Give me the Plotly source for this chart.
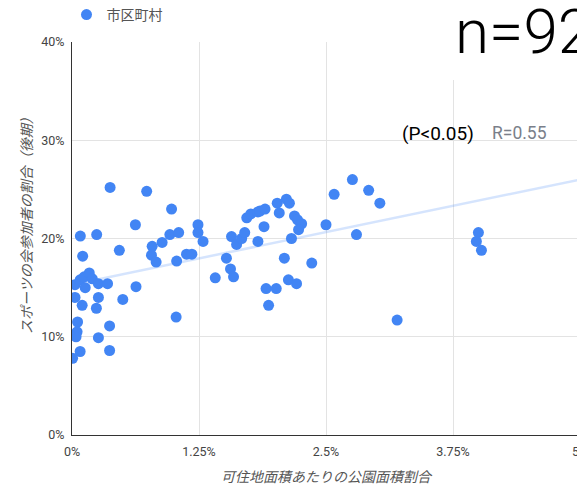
import plotly.graph_objects as go

# 可住地面積あたりの公園面積割合 (%)
park_ratio = [
    0.375, 0.735, 0.98, 0.624, 0.082, 0.243, 0.466, 0.105, 0.789, 0.887,
    0.963, 1.05, 0.782, 0.828, 1.03, 1.127, 1.18, 1.24, 1.24, 1.29,
    1.52, 1.56, 1.59, 1.41, 1.57, 1.62, 1.67, 1.70, 1.72, 1.76,
    1.83, 1.83, 0.03, 0.08, 0.12, 0.17, 0.20, 0.13, 0.26, 0.35,
    0.03, 0.10, 0.26, 0.24, 0.50, 0.63, 1.025, 0.055, 0.05, 0.04,
    0.37, 0.26, 0.37, 0.08, 0.006, 1.85, 1.90, 2.02, 2.11, 2.14,
    2.04, 2.19, 2.22, 2.26, 2.23, 2.16, 1.89, 2.09, 2.36, 2.13,
    2.21, 1.91, 2.01, 1.935, 2.50, 2.58, 2.76, 2.92, 3.03, 2.80,
    3.20, 4.00, 3.98, 4.03,
]
# スポーツの会参加者の割合（後期） (%)
sports_ratio = [
    25.2, 24.8, 23.0, 21.4, 20.25, 20.4, 18.8, 18.2, 19.2, 19.6,
    20.4, 20.6, 18.3, 17.6, 17.7, 18.4, 18.4, 21.4, 20.6, 19.7,
    18.0, 16.9, 16.1, 16.0, 20.2, 19.4, 20.0, 20.6, 22.1, 22.5,
    22.7, 19.7, 15.3, 15.8, 16.1, 16.5, 15.9, 15.0, 15.4, 15.4,
    14.0, 13.2, 14.0, 12.9, 13.8, 15.1, 12.0, 11.5, 10.5, 10.0,
    11.1, 9.9, 8.6, 8.5, 7.8, 22.8, 23.0, 23.6, 24.0, 23.6,
    22.6, 22.3, 21.9, 21.5, 20.9, 20.0, 21.2, 18.0, 17.5, 15.8,
    15.4, 14.9, 14.9, 13.2, 21.4, 24.5, 26.0, 24.9, 23.6, 20.4,
    11.7, 20.6, 19.7, 18.8,
]
trend_x = [0, 5]
trend_y = [15.3, 26.0]

x_ticks = [0, 1.25, 2.5, 3.75, 5]
x_tick_labels = ["0%", "1.25%", "2.5%", "3.75%", "5%"]
y_ticks = [0, 10, 20, 30, 40]
y_tick_labels = ["0%", "10%", "20%", "30%", "40%"]

series_name = "市区町村"
x_title = "可住地面積あたりの公園面積割合"
y_title = "スポーツの会参加者の割合（後期）"
n_label = "n=92"
p_label = "(P<0.05)"
r_label = "R=0.55"

# The page body has an 8px margin; the figure is sized so that the
# plot area lands at x 72..580, y 42..435 in the 585x489 window.
OFF = 8
W, H = 585 - OFF, 489 - OFF
PL, PR, PT, PB = 72, 580, 42, 435


def px(xp):
    return (xp - PL) / (PR - PL)


def py(yp):
    return (PB - yp) / (PB - PT)


fig = go.Figure()
fig.add_trace(go.Scatter(
    x=trend_x, y=trend_y, mode="lines",
    line=dict(color="rgba(66,133,244,0.22)", width=2.5),
    showlegend=False, hoverinfo="skip",
))
fig.add_trace(go.Scatter(
    x=park_ratio, y=sports_ratio, mode="markers", name=series_name,
    marker=dict(color="#4285F4", size=11, line=dict(width=0)),
))

fig.update_layout(
    width=W, height=H,
    margin=dict(l=PL - OFF, r=W - (PR - OFF), t=PT - OFF, b=H - (PB - OFF)),
    paper_bgcolor="white", plot_bgcolor="white",
    font=dict(family="Roboto, 'Noto Sans CJK JP', sans-serif", color="#444444", size=12),
    showlegend=True,
    legend=dict(
        orientation="h", xref="container", yref="container",
        x=58.5 / W, y=1 - 7 / H, xanchor="left", yanchor="middle",
        font=dict(size=14, color="#555555"),
        bgcolor="rgba(0,0,0,0)",
    ),
    xaxis=dict(
        range=[0, 5], tickvals=x_ticks, ticktext=x_tick_labels,
        automargin=False, ticklabeloverflow="allow",
        showgrid=True, gridcolor="#e3e3e3", gridwidth=1,
        showline=True, linecolor="#333333", linewidth=1,
        zeroline=False, ticks="", ticklabelstandoff=5,
        tickfont=dict(size=12.5, color="#444444"),
        title=dict(text=x_title, standoff=14,
                   font=dict(size=14, color="#555555", style="italic")),
    ),
    yaxis=dict(
        range=[0, 40], tickvals=y_ticks, ticktext=y_tick_labels,
        automargin=False, ticklabeloverflow="allow",
        showgrid=True, gridcolor="#e3e3e3", gridwidth=1,
        showline=True, linecolor="#333333", linewidth=1,
        zeroline=False, ticks="", ticklabelstandoff=4,
        tickfont=dict(size=12.5, color="#444444"),
    ),
)

# y-axis title placed as a rotated annotation (centred where the reference has it)
fig.add_annotation(text=y_title, xref="paper", yref="paper",
                   x=px(27), y=py(222), textangle=-90,
                   xanchor="center", yanchor="middle", showarrow=False,
                   font=dict(size=14, color="#555555", style="italic"))

# white box behind the n label (covers the grid, as in the reference)
fig.add_shape(type="rect", xref="paper", yref="paper",
              x0=px(433), x1=1.05, y0=py(80), y1=1.2,
              fillcolor="white", line=dict(width=0), layer="above")
fig.add_annotation(text=n_label, xref="paper", yref="paper",
                   x=px(453), y=py(31.5),
                   xanchor="left", yanchor="middle", showarrow=False,
                   font=dict(family="Roboto", size=62, color="black", weight=300))
fig.add_annotation(text=p_label, xref="paper", yref="paper",
                   x=px(400), y=py(133),
                   xanchor="left", yanchor="middle", showarrow=False,
                   font=dict(family="Roboto", size=19, color="black"))
fig.add_annotation(text=r_label, xref="paper", yref="paper",
                   x=px(490), y=py(133),
                   xanchor="left", yanchor="middle", showarrow=False,
                   font=dict(family="Roboto", size=17.5, color="#7a7f8a"))

fig.write_html("out.html")
